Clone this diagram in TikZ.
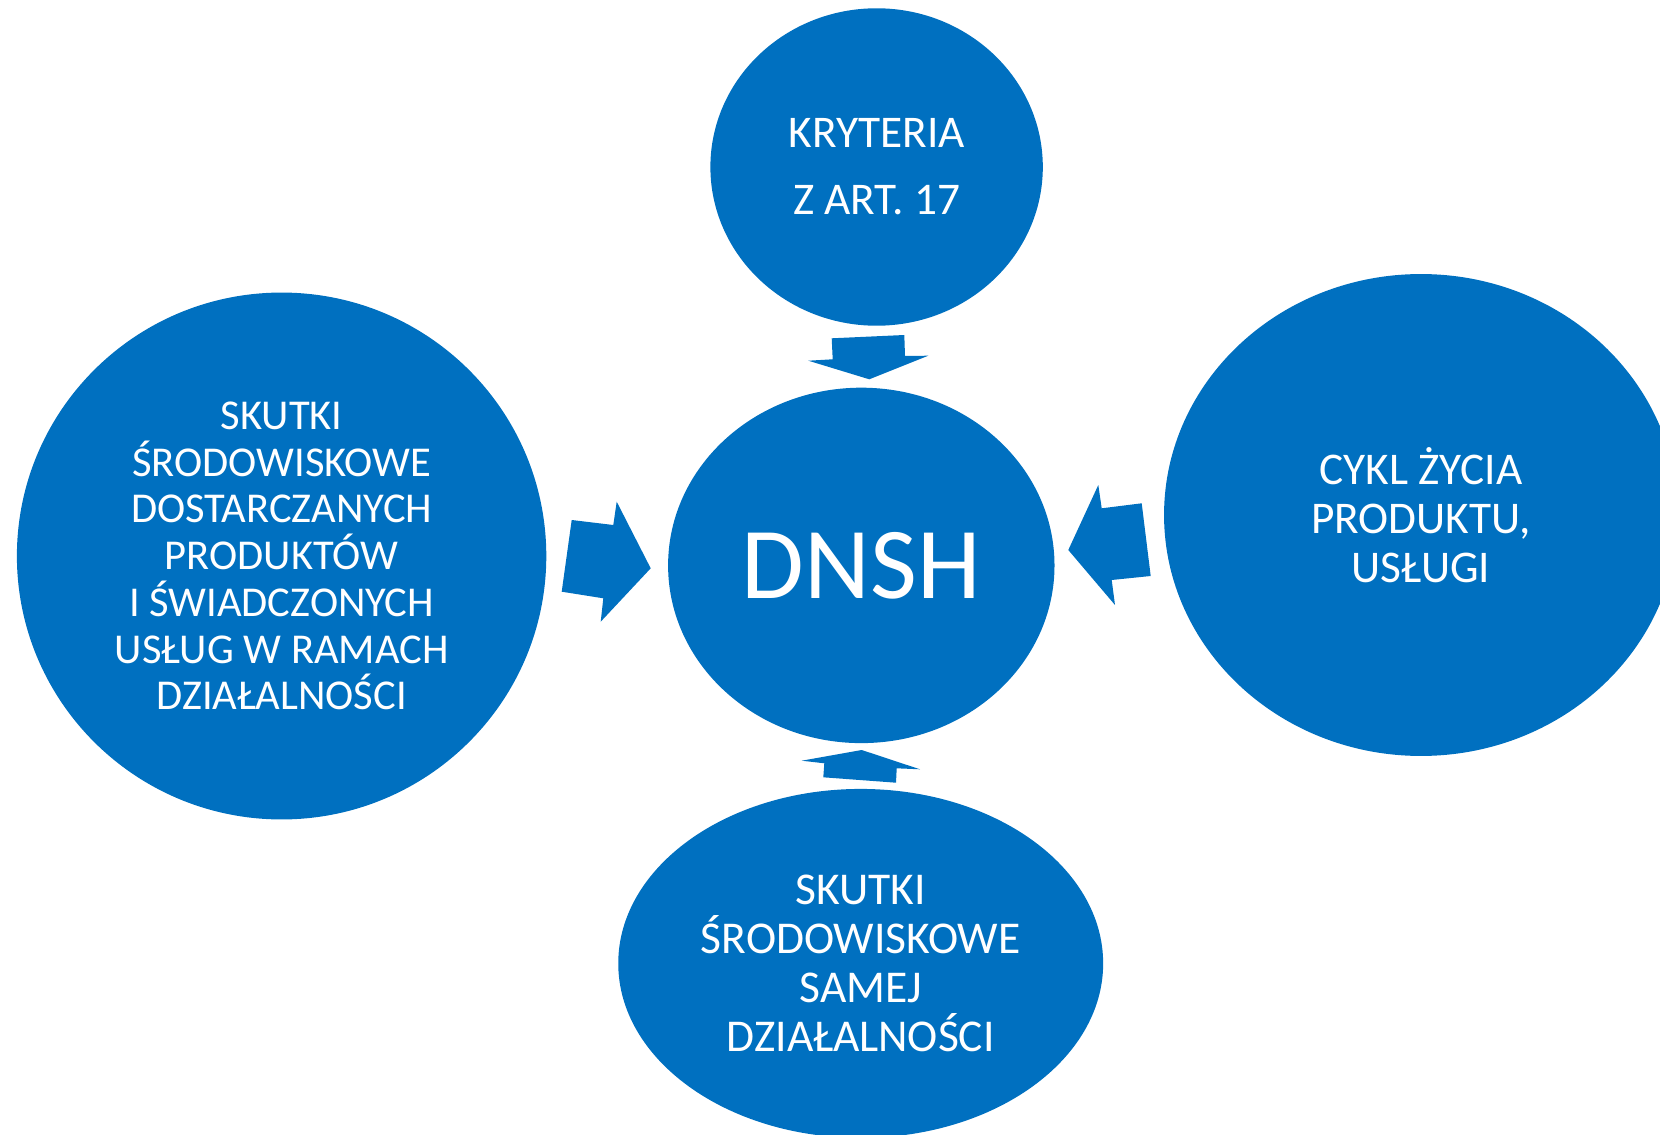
\documentclass[tikz,border=0pt]{standalone}
\usepackage{fontspec}
\setmainfont{Carlito}
\usetikzlibrary{shapes.geometric}
\definecolor{dnshblue}{HTML}{0070C0}

\begin{document}
\begin{tikzpicture}[x=0.02cm, y=-0.02cm,
        bubble/.style={ellipse, fill=dnshblue, draw=none, text=white, inner sep=0pt, align=center},
        blockarrow/.style={fill=dnshblue, draw=none}]
        \useasboundingbox (0,0) rectangle (1660,1135);
        \clip (0,0) rectangle (1660,1135);

        \node[bubble, minimum width=6.65cm, minimum height=6.35cm,
            font=\fontsize{25.8}{38}\selectfont] (kryteria) at (876.6,167) {KRYTERIA\\Z ART. 17};
        \node[bubble, minimum width=7.73cm, minimum height=7.11cm,
            font=\fontsize{58}{60}\selectfont] (dnsh) at (861.3,565.4) {DNSH};
        \node[bubble, minimum width=10.59cm, minimum height=10.54cm,
            font=\fontsize{24.2}{26.6}\selectfont] (skutkiprod) at (281.6,556) {SKUTKI\\ŚRODOWISKOWE\\DOSTARCZANYCH\\PRODUKTÓW\\I ŚWIADCZONYCH\\USŁUG W RAMACH\\DZIAŁALNOŚCI};
        \node[bubble, minimum width=10.28cm, minimum height=9.64cm,
            font=\fontsize{25.8}{28}\selectfont] (cykl) at (1421,515) {CYKL ŻYCIA\\PRODUKTU,\\USŁUGI};
        \node[bubble, minimum width=9.70cm, minimum height=6.98cm,
            font=\fontsize{25.9}{27.8}\selectfont] (skutkidzial) at (860.7,963.4) {SKUTKI\\ŚRODOWISKOWE\\SAMEJ\\DZIAŁALNOŚCI};

        % block arrows into DNSH
        \fill[blockarrow] (831.7,338.3) -- (904.3,335) -- (905,356) -- (928.3,355.7)
            -- (869.3,379.3) -- (808.3,360.7) -- (832.7,359.3) -- cycle;
        \fill[blockarrow] (571.7,520) -- (613.3,525) -- (616.7,501.7) -- (650.7,568.3)
            -- (600.7,621.7) -- (603.3,598.3) -- (561.7,591.7) -- cycle;
        \fill[blockarrow] (1141.7,503.3) -- (1150.7,576) -- (1111.7,580) -- (1115,605)
            -- (1068.3,550) -- (1098.3,485) -- (1101.7,508.3) -- cycle;
        \fill[blockarrow] (823.3,777.3) -- (896,782.7) -- (896.7,768.3) -- (920,769.3)
            -- (861.7,750) -- (801.7,760.7) -- (824.3,763.3) -- cycle;
    \end{tikzpicture}
\end{document}
